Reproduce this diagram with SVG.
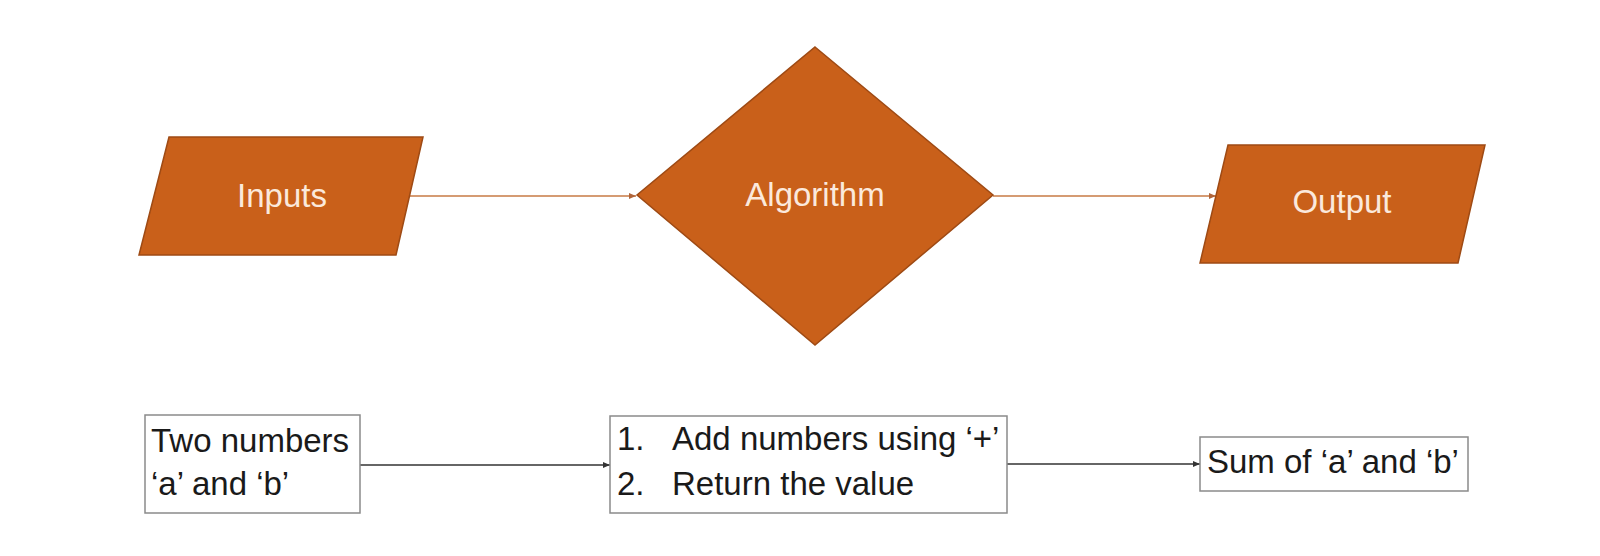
<svg xmlns="http://www.w3.org/2000/svg" width="1600" height="556" viewBox="0 0 1600 556">
<defs>
<style>
.shape{fill:#C9601A;stroke:#9E4A14;stroke-width:1.5}
.lbl{font-family:"Liberation Sans",Arial,sans-serif;font-size:33px;fill:#FBE9DC;text-anchor:middle}
.box{fill:#fff;stroke:#8a8a8a;stroke-width:1.5}
.txt{font-family:"Liberation Sans",Arial,sans-serif;font-size:33px;fill:#1a1a1a}
.oc{stroke:#C77A45;stroke-width:1.5;fill:none}
.bc{stroke:#333;stroke-width:1.5;fill:none}
</style>
<marker id="ao" markerWidth="8" markerHeight="8" refX="7" refY="4" orient="auto" markerUnits="userSpaceOnUse">
<path d="M0,1 L7,4 L0,7 z" fill="#B0653A"/>
</marker>
<marker id="ab" markerWidth="8" markerHeight="8" refX="7" refY="4" orient="auto" markerUnits="userSpaceOnUse">
<path d="M0,1 L7,4 L0,7 z" fill="#333"/>
</marker>
</defs>
<rect width="1600" height="556" fill="#fff"/>
<g id="connectors">
<line class="oc" x1="400" y1="196" x2="636" y2="196" marker-end="url(#ao)"/>
<line class="oc" x1="993" y1="196" x2="1216" y2="196" marker-end="url(#ao)"/>
<line class="bc" x1="360" y1="465" x2="610" y2="465" marker-end="url(#ab)"/>
<line class="bc" x1="1007" y1="464" x2="1200" y2="464" marker-end="url(#ab)"/>
</g>
<g id="inputs">
<polygon class="shape" points="169,137 423,137 396,255 139,255"/>
<text class="lbl" x="282" y="207">Inputs</text>
</g>
<g id="algorithm">
<polygon class="shape" points="815,47 993,195 815,345 637,195"/>
<text class="lbl" x="815" y="206">Algorithm</text>
</g>
<g id="output">
<polygon class="shape" points="1228,145 1485,145 1458,263 1200,263"/>
<text class="lbl" x="1342" y="213">Output</text>
</g>
<g id="two-numbers">
<rect class="box" x="145" y="415" width="215" height="98"/>
<text class="txt" x="151" y="452">Two numbers</text>
<text class="txt" x="151" y="495">‘a’ and ‘b’</text>
</g>
<g id="steps">
<rect class="box" x="610" y="416" width="397" height="97"/>
<text class="txt" x="617" y="450">1.</text>
<text class="txt" x="672" y="450">Add numbers using ‘+’</text>
<text class="txt" x="617" y="495">2.</text>
<text class="txt" x="672" y="495">Return the value</text>
</g>
<g id="sum">
<rect class="box" x="1200" y="437" width="268" height="54"/>
<text class="txt" x="1207" y="473">Sum of ‘a’ and ‘b’</text>
</g>
</svg>
